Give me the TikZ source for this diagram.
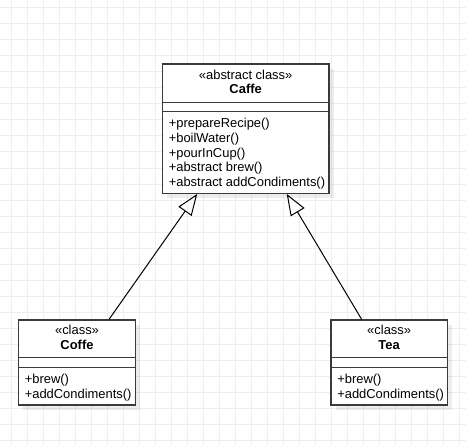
\documentclass[tikz,border=0pt]{standalone}
\usepackage{fontspec}
\setmainfont{Liberation Sans}
\usetikzlibrary{arrows.meta,shadows}
\definecolor{gridc}{HTML}{EEEEEE}
\definecolor{boxc}{HTML}{3A3A3A}
\begin{document}
\begin{tikzpicture}[x=0.75pt,y=-0.75pt,
  gridline/.style={draw=gridc, line width=0.75pt},
  classbox/.style={draw=boxc, line width=0.9pt, fill=white, inner sep=0pt,
    drop shadow={shadow xshift=3.5pt, shadow yshift=-3.5pt, fill=black, opacity=0.07}},
  sepline/.style={draw=boxc, line width=0.9pt},
  txt/.style={inner sep=0pt, font=\fontsize{9.7}{11}\selectfont},
  title/.style={txt, anchor=base, font=\fontsize{9.7}{11}\selectfont\bfseries},
  stereo/.style={txt, anchor=base},
  member/.style={txt, anchor=base west},
  inherit/.style={draw=black, line width=0.75pt, -{Triangle[open, length=16pt, width=12pt, line width=0.75pt]}}
]
\useasboundingbox (0,0) rectangle (466,445);
\fill[white] (0,0) rectangle (466,445);
\foreach \gx in {11.3,27.3,...,465} {\draw[gridline] (\gx,0) -- (\gx,445);}
\foreach \gy in {8,24,...,444} {\draw[gridline] (0,\gy) -- (466,\gy);}

% Caffe
\node[classbox, minimum width=125pt, minimum height=97pt] (caffe) at (245.65,128.65) {};
\draw[sepline] (caffe.west |- 0,102.7) -- (caffe.east |- 0,102.7);
\draw[sepline] (caffe.west |- 0,111.7) -- (caffe.east |- 0,111.7);
\node[stereo] (caffest) at (245.65,79.5) {«abstract class»};
\node[title] (caffename) at (245.65,93.8) {Caffe};
\node[member] (caffem1) at (168.5,127.5) {+prepareRecipe()};
\node[member] (caffem2) at (168.5,142.3) {+boilWater()};
\node[member] (caffem3) at (168.5,157.0) {+pourInCup()};
\node[member] (caffem4) at (168.5,171.8) {+abstract brew()};
\node[member] (caffem5) at (168.5,186.5) {+abstract addCondiments()};

% Coffe
\node[classbox, minimum width=88pt, minimum height=63.75pt] (coffe) at (77,362.5) {};
\draw[sepline] (coffe.west |- 0,357.7) -- (coffe.east |- 0,357.7);
\draw[sepline] (coffe.west |- 0,367.3) -- (coffe.east |- 0,367.3);
\node[stereo] (coffest) at (77,334.3) {«class»};
\node[title] (coffename) at (77,349) {Coffe};
\node[member] (coffem1) at (24.5,383.3) {+brew()};
\node[member] (coffem2) at (24.5,398) {+addCondiments()};

% Tea
\node[classbox, minimum width=87.2pt, minimum height=63.75pt] (tea) at (389.15,362.5) {};
\draw[sepline] (tea.west |- 0,357.7) -- (tea.east |- 0,357.7);
\draw[sepline] (tea.west |- 0,367.3) -- (tea.east |- 0,367.3);
\node[stereo] (teast) at (389.15,334.3) {«class»};
\node[title] (teaname) at (389.15,349) {Tea};
\node[member] (team1) at (337,383.3) {+brew()};
\node[member] (team2) at (337,398) {+addCondiments()};

% inheritance
\draw[inherit] ([xshift=24pt]coffe.north) -- ([xshift=-36.3pt]caffe.south);
\draw[inherit] ([xshift=-20.6pt]tea.north) -- ([xshift=30.8pt]caffe.south);
\end{tikzpicture}
\end{document}
